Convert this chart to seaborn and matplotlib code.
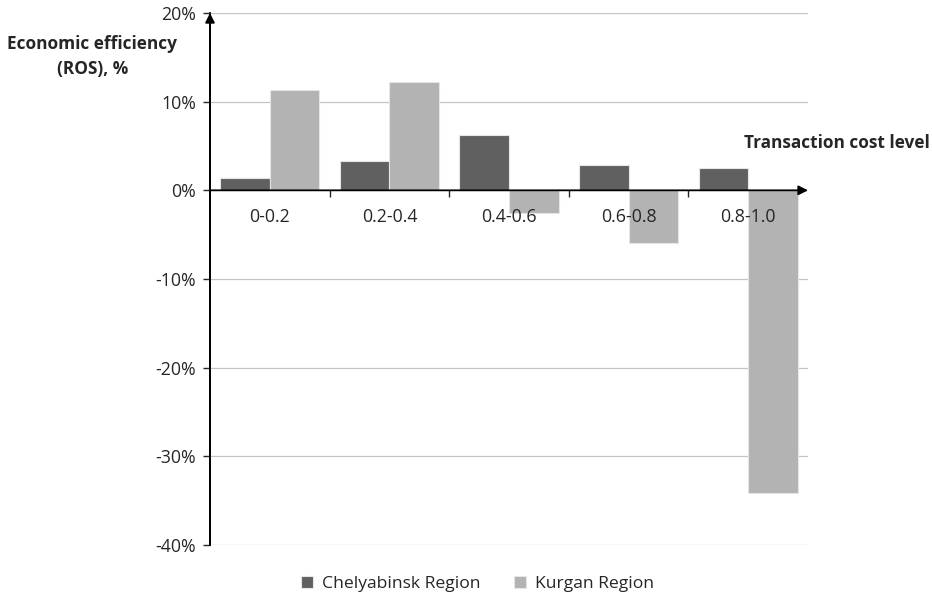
import numpy as np
import pandas as pd
import seaborn as sns
import matplotlib.pyplot as plt
from matplotlib.ticker import PercentFormatter, FixedLocator

# Data (ROS, %)
levels = ["0-0.2", "0.2-0.4", "0.4-0.6", "0.6-0.8", "0.8-1.0"]
chelyabinsk = [1.4, 3.3, 6.2, 2.9, 2.5]
kurgan = [11.3, 12.2, -2.6, -5.9, -34.1]
regions = ["Chelyabinsk Region", "Kurgan Region"]
colors = ["#606060", "#b3b3b3"]

df = pd.DataFrame({
    "Level": levels * 2,
    "ROS": chelyabinsk + kurgan,
    "Region": [regions[0]] * len(levels) + [regions[1]] * len(levels),
})

sns.set_style("white")
plt.rcParams["font.family"] = ["Open Sans", "DejaVu Sans"]
plt.rcParams["axes.unicode_minus"] = False

fig = plt.figure(figsize=(9.32, 5.96), dpi=100)
ax = fig.add_axes([0.2253, 0.0856, 0.6417, 0.8926])

sns.barplot(data=df, x="Level", y="ROS", hue="Region", palette=colors,
            width=0.83, edgecolor="#e6e6e6", linewidth=0.8, ax=ax, zorder=2)

ax.set_ylim(-40, 20)
ax.set_xlim(-0.5, 4.5)
ax.set_yticks(np.arange(-40, 21, 10))
ax.yaxis.set_major_formatter(PercentFormatter(decimals=0))
# gridlines behind the bars, tick labels above them
for v in np.arange(-40, 21, 10):
    if v != 0:
        ax.axhline(v, color="#c4c4c4", lw=0.9, zorder=0.5)
ax.grid(False)
ax.set_axisbelow(False)
ax.set_xlabel("")
ax.set_ylabel("")

for s in ["top", "right", "bottom"]:
    ax.spines[s].set_visible(False)
ax.spines["left"].set_color("black")
ax.spines["left"].set_linewidth(1.3)

ax.tick_params(axis="y", which="major", left=True, length=5, width=1.0,
               direction="out", labelsize=12.8, pad=5)
ax.tick_params(axis="x", which="major", bottom=False, labelsize=12.8, pad=9)
ax.xaxis.set_minor_locator(FixedLocator([0.5, 1.5, 2.5, 3.5]))
ax.tick_params(axis="x", which="minor", bottom=True, length=5, width=1.0,
               direction="out")

# x labels sit just below the zero line
ax.spines["bottom"].set_position(("data", 0))

# arrows for the axes
ax.annotate("", xy=(1.0, 0), xycoords=("axes fraction", "data"),
            xytext=(0.0, 0), textcoords=("axes fraction", "data"),
            arrowprops=dict(arrowstyle="-|>", lw=1.3, color="black",
                            mutation_scale=14, shrinkA=0, shrinkB=0),
            zorder=5)
ax.annotate("", xy=(0, 1.0), xycoords="axes fraction",
            xytext=(0, 0.0), textcoords="axes fraction",
            arrowprops=dict(arrowstyle="-|>", lw=1.3, color="black",
                            mutation_scale=14, shrinkA=0, shrinkB=0),
            zorder=5)

fig.text(0.099, 0.905, "Economic efficiency\n(ROS), %", ha="center",
         va="center", fontsize=12.4, fontweight="bold", linespacing=1.45)
fig.text(0.898, 0.760, "Transaction cost level", ha="center", va="center",
         fontsize=12.4, fontweight="bold")

ax.legend_.remove()
handles, labels = ax.get_legend_handles_labels()
fig.legend(handles, labels, loc="center", bbox_to_anchor=(0.512, 0.02),
           ncol=2, frameon=False, fontsize=12.6, handlelength=0.7,
           handleheight=0.7, handletextpad=0.5, columnspacing=1.9)

fig.savefig("out.png", dpi=100)
